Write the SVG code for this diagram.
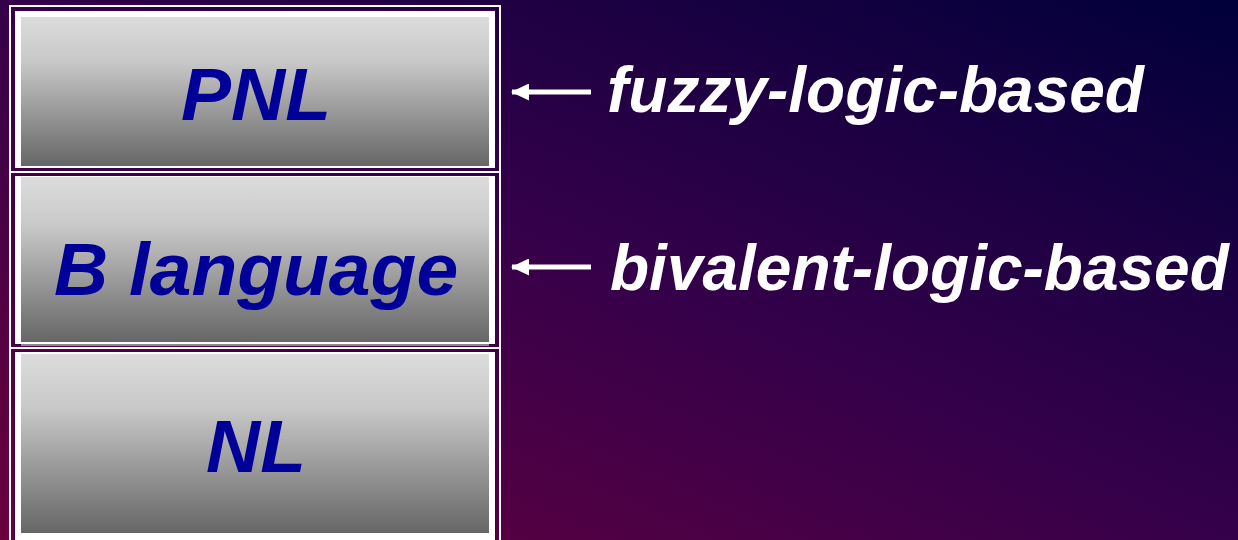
<svg xmlns="http://www.w3.org/2000/svg" width="1238" height="540" viewBox="0 0 1238 540">
<defs>
<linearGradient id="bg" x1="0" y1="1" x2="1" y2="0">
<stop offset="0" stop-color="#6a003e"/>
<stop offset="0.5" stop-color="#35004a"/>
<stop offset="1" stop-color="#00003a"/>
</linearGradient>
<linearGradient id="box" x1="0" y1="0" x2="0" y2="1">
<stop offset="0" stop-color="#dcdcdc"/>
<stop offset="0.3" stop-color="#c8c8c8"/>
<stop offset="1" stop-color="#666666"/>
</linearGradient>
<marker id="ah" markerWidth="19" markerHeight="17" refX="17" refY="8.5" orient="auto" markerUnits="userSpaceOnUse">
<path d="M0,0 L18,8.5 L0,17 Z" fill="#ffffff"/>
</marker>
</defs>
<style>
.frame-out{fill:none;stroke:#ffffff;stroke-width:2}
.frame-in{fill:#ffffff;stroke:#3a0045;stroke-width:1}
.box{fill:url(#box)}
.lbl{font-family:"Liberation Sans",Arial,sans-serif;font-weight:bold;font-style:italic;font-size:75px;fill:#000099;text-anchor:middle}
.side{font-family:"Liberation Sans",Arial,sans-serif;font-weight:bold;font-style:italic;font-size:64px;fill:#ffffff}
.arrow{stroke:#ffffff;stroke-width:5;fill:none}
</style>
<rect x="0" y="0" width="1238" height="540" fill="url(#bg)"/>

<g id="node-pnl">
<rect class="frame-out" x="10" y="6" width="490" height="166"/>
<rect class="frame-in" x="14.5" y="10.5" width="481" height="158"/>
<rect class="box" x="21" y="17" width="468" height="149"/>
<text class="lbl" x="256" y="120">PNL</text>
</g>

<g id="node-blang">
<rect class="frame-out" x="10" y="172" width="490" height="176"/>
<rect class="frame-in" x="14.5" y="175.5" width="481" height="169"/>
<rect class="box" x="21" y="177" width="468" height="165"/>
<rect x="21" y="344" width="468" height="2" fill="#8a8a8a"/>
<text class="lbl" x="256" y="295">B language</text>
</g>

<g id="node-nl">
<rect class="frame-out" x="10" y="348" width="490" height="200"/>
<rect class="frame-in" x="14.5" y="351.5" width="481" height="196"/>
<rect class="box" x="21" y="354" width="468" height="179"/>
<text class="lbl" x="256" y="472">NL</text>
</g>

<g id="connectors">
<line class="arrow" x1="591" y1="92" x2="512" y2="92" marker-end="url(#ah)"/>
<line class="arrow" x1="591" y1="267" x2="512" y2="267" marker-end="url(#ah)"/>
</g>

<g id="label-fuzzy">
<text class="side" x="607" y="112">fuzzy-logic-based</text>
</g>
<g id="label-bivalent">
<text class="side" x="610" y="290">bivalent-logic-based</text>
</g>
</svg>
